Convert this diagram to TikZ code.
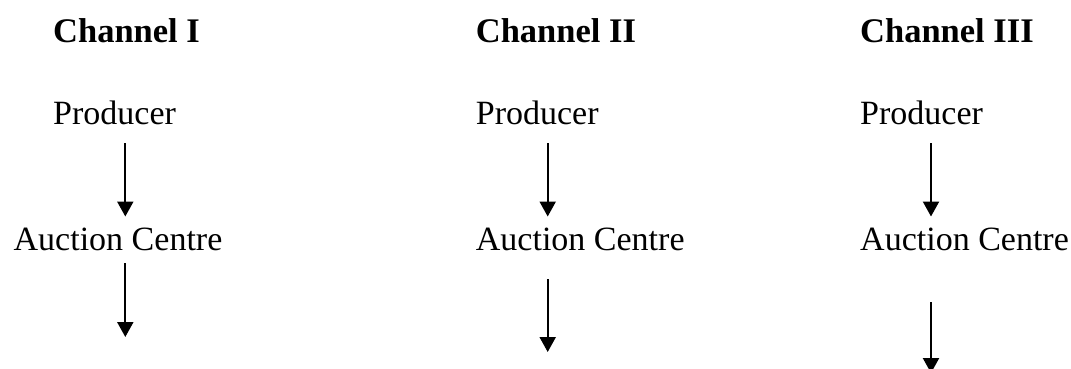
\documentclass[tikz,border=0pt]{standalone}
\usepackage{fontspec}
\setmainfont{Liberation Serif}
\usetikzlibrary{arrows.meta}
\begin{document}
\begin{tikzpicture}[x=1pt,y=-1pt,
  lbl/.style={anchor=base west,inner sep=0pt,font=\fontsize{34}{40}\selectfont},
  ttl/.style={lbl,font=\fontsize{34.5}{40}\selectfont\bfseries},
  arr/.style={line width=2.2pt,-{Triangle[length=15pt,width=16pt]}}]
\useasboundingbox (0,0) rectangle (1071,369);
% Channel I
\node[ttl] (t1) at (53,43) {Channel I};
\node[lbl] (p1) at (53,124) {Producer};
\node[lbl] (c1) at (13.5,250) {Auction Centre};
\coordinate (a1s) at (125.3,143); \coordinate (a1e) at (125.3,216.5);
\coordinate (b1s) at (125.3,263); \coordinate (b1e) at (125.3,337);
\draw[arr] (a1s) -- (a1e);
\draw[arr] (b1s) -- (b1e);
% Channel II
\node[ttl] (t2) at (475.7,43) {Channel II};
\node[lbl] (p2) at (475.7,124) {Producer};
\node[lbl] (c2) at (475.7,250) {Auction Centre};
\coordinate (a2s) at (547.7,143); \coordinate (a2e) at (547.7,216.5);
\coordinate (b2s) at (547.7,279); \coordinate (b2e) at (547.7,352);
\draw[arr] (a2s) -- (a2e);
\draw[arr] (b2s) -- (b2e);
% Channel III
\node[ttl] (t3) at (860,43) {Channel III};
\node[lbl] (p3) at (860,124) {Producer};
\node[lbl] (c3) at (860,250) {Auction Centre};
\coordinate (a3s) at (931,143); \coordinate (a3e) at (931,216.5);
\coordinate (b3s) at (931,302); \coordinate (b3e) at (931,373);
\draw[arr] (a3s) -- (a3e);
\draw[arr] (b3s) -- (b3e);
\end{tikzpicture}
\end{document}
